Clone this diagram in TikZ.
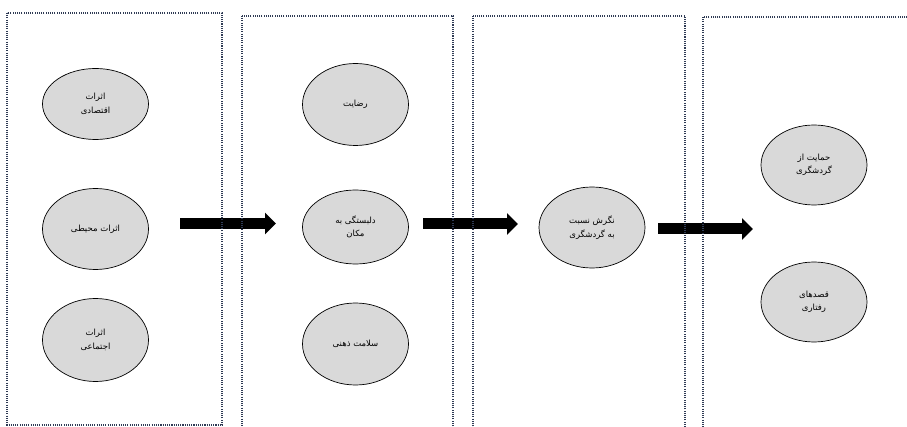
\documentclass[tikz,border=0pt]{standalone}
\usepackage{fontspec}
\newfontfamily\arabicfont[Script=Arabic]{DejaVu Sans}
\TeXXeTstate=1
\usetikzlibrary{shapes.geometric,arrows.meta}
\definecolor{panelc}{HTML}{2F3B55}
\definecolor{ellfill}{HTML}{D9D9D9}
\tikzset{
  panel/.style={draw=panelc, line width=1.4pt, dash pattern=on 1.1pt off 1.1pt},
  oval/.style={ellipse, draw=black, line width=0.7pt, fill=ellfill, minimum width=106pt, minimum height=81pt, inner sep=0pt, align=center, font=\arabicfont\fontsize{8.5}{13.5}\selectfont},
  bigarrow/.style={line width=11pt, black, -{Triangle[length=11pt,width=21pt]}}
}
\begin{document}
\begin{tikzpicture}[x=1pt,y=-1pt]
\useasboundingbox (0,0) rectangle (907,427);
\begin{scope}
\clip (0,0) rectangle (907,427);
% arrows
\coordinate (a1s) at (180,223.5);
\coordinate (a1e) at (276,223.5);
\coordinate (a2s) at (423,224);
\coordinate (a2e) at (518,224);
\coordinate (a3s) at (658,229);
\coordinate (a3e) at (753,229);
\draw[bigarrow] (a1s) -- (a1e);
\draw[bigarrow] (a2s) -- (a2e);
\draw[bigarrow] (a3s) -- (a3e);
% panels
\draw[panel] (7,13) rectangle (222,425);
\draw[panel] (242,16) rectangle (453,440);
\draw[panel] (473,16) rectangle (685,440);
\draw[panel] (703,17) rectangle (930,440);
\end{scope}
% panel 1
\node[oval, minimum height=71pt] (e1) at (95.5,104) {\beginR اثرات\endR\\\beginR اقتصادی\endR};
\node[oval] (e2) at (95.5,229) {\beginR اثرات محیطی\endR};
\node[oval, minimum height=83pt] (e3) at (95.5,340) {\beginR اثرات\endR\\\beginR اجتماعی\endR};
% panel 2
\node[oval, minimum height=82pt] (f1) at (355.5,104.5) {\beginR رضایت\endR};
\node[oval, minimum height=74pt] (f2) at (355.5,227) {\beginR دلبستگی به\endR\\\beginR مکان\endR};
\node[oval, minimum height=82pt] (f3) at (355.5,344) {\beginR سلامت ذهنی\endR};
% panel 3
\node[oval] (g1) at (592,227.5) {\beginR نگرش نسبت\endR\\\beginR به گردشگری\endR};
% panel 4
\node[oval, minimum height=80pt] (h1) at (814,165) {\beginR حمایت از\endR\\\beginR گردشگری\endR};
\node[oval, minimum height=80pt] (h2) at (814,302) {\beginR قصدهای\endR\\\beginR رفتاری\endR};
\end{tikzpicture}
\end{document}
